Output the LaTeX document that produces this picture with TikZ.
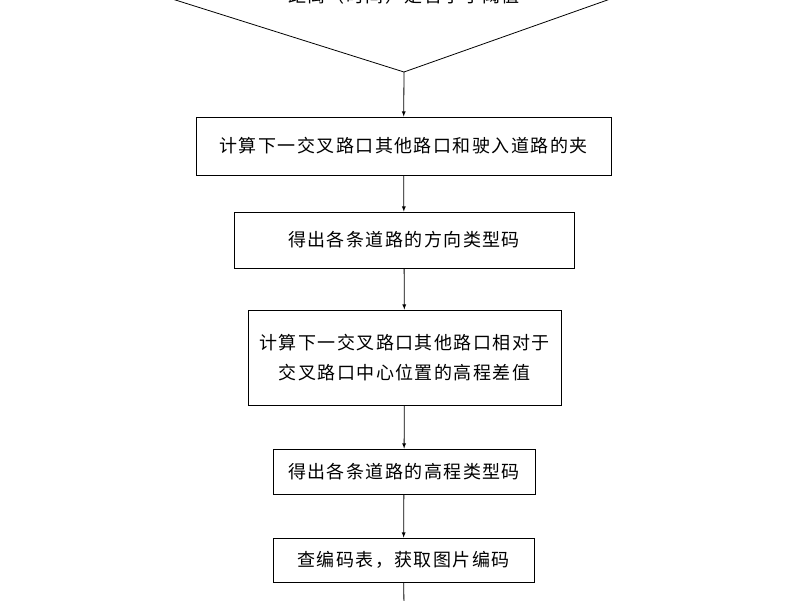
\documentclass[tikz,border=0pt]{standalone}
\usepackage{fontspec}
\newfontfamily\cjk{Noto Sans CJK SC}[LetterSpace=8]
\begin{document}
\begin{tikzpicture}[x=1pt,y=-1pt,
  box/.style={draw,thick,fill=white,inner sep=0pt,font=\cjk\fontsize{18}{30}\selectfont,align=center},
  arr/.style={thick,-latex}]
\useasboundingbox (0,0) rectangle (800,600);
\begin{scope}
\clip (0,0) rectangle (800,600);
\coordinate (dl) at (-50,-71);
\coordinate (dr) at (890,-100);
\coordinate (db) at (404,72);
\draw[thick] (dl) -- (db) -- (dr);
\node[font=\cjk\fontsize{18}{20}\selectfont] (t0) at (404,-4) {距离（时间）是否小于阈值};
\node[box,minimum width=415,minimum height=58] (b1) at (403.5,146) {计算下一交叉路口其他路口和驶入道路的夹};
\node[box,minimum width=340,minimum height=56] (b2) at (404,240) {得出各条道路的方向类型码};
\node[box,minimum width=313,minimum height=95] (b3) at (404.5,357.5) {计算下一交叉路口其他路口相对于\\交叉路口中心位置的高程差值};
\node[box,minimum width=262,minimum height=45] (b4) at (404,471.5) {得出各条道路的高程类型码};
\node[box,minimum width=261,minimum height=44] (b5) at (403.5,560) {查编码表，获取图片编码};
\coordinate (end) at (404,610);
\draw[arr] (db) -- (b1);
\draw[arr] (b1) -- (b2);
\draw[arr] (b2) -- (b3);
\draw[arr] (b3) -- (b4);
\draw[arr] (b4) -- (b5);
\draw[thick] (b5) -- (end);
\end{scope}
\end{tikzpicture}
\end{document}
